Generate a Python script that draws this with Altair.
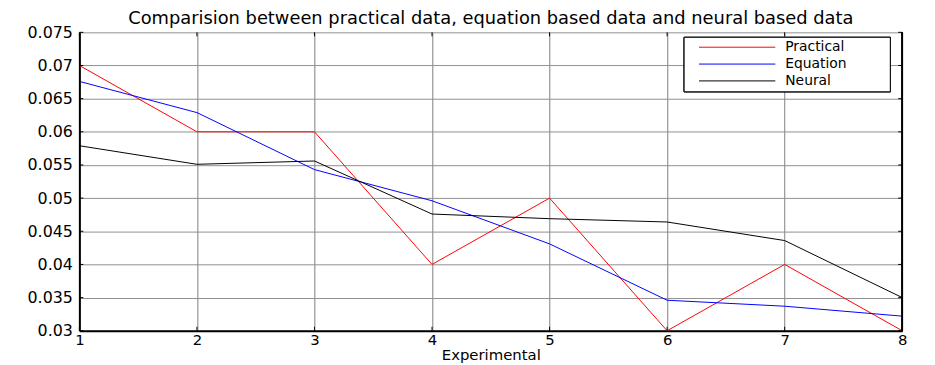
import altair as alt
import pandas as pd

experiments = [1, 2, 3, 4, 5, 6, 7, 8]
practical = [0.070, 0.060, 0.060, 0.040, 0.050, 0.030, 0.040, 0.030]
equation = [0.0676, 0.0629, 0.0543, 0.0496, 0.0431, 0.0346, 0.0337, 0.0322]
neural = [0.0579, 0.0551, 0.0556, 0.0476, 0.0469, 0.0464, 0.0436, 0.0350]
series_names = ["Practical", "Equation", "Neural"]
series_colors = ["#ff0000", "#0000ff", "#000000"]
y_ticks = [0.03, 0.035, 0.04, 0.045, 0.05, 0.055, 0.06, 0.065, 0.07, 0.075]
title_text = "Comparision between practical data, equation based data and neural based data"

rows = []
for name, vals in zip(series_names, [practical, equation, neural]):
    for e, v in zip(experiments, vals):
        rows.append({"Experiment": e, "Value": v, "Series": name})
df = pd.DataFrame(rows)
ytick_df = pd.DataFrame({"t": y_ticks})
xtick_df = pd.DataFrame({"e": experiments})
legend_df = pd.DataFrame({"Series": series_names})

FONT = "DejaVu Sans"
W, H = 830, 301

xscale = alt.Scale(domain=[1, 8], nice=False)
yscale = alt.Scale(domain=[0.03, 0.075], nice=False)
cscale = alt.Scale(domain=series_names, range=series_colors)

xaxis = alt.Axis(values=experiments, format="d", title="Experimental",
                 grid=True, gridColor="#808080", gridOpacity=1, gridWidth=1,
                 domainColor="black", domainWidth=2, tickSize=0,
                 labelPadding=2, labelFontSize=15, labelFont=FONT,
                 labelColor="black", titleFont=FONT, titleFontSize=15,
                 titleFontWeight="normal", titleColor="black", titlePadding=0,
                 labelFlush=False, labelOverlap=False)
yaxis = alt.Axis(values=y_ticks, format="~g", title=None,
                 grid=True, gridColor="#909090", gridOpacity=1, gridWidth=1,
                 domainColor="black", domainWidth=2, tickSize=0,
                 labelPadding=7, labelFontSize=16, labelFont=FONT,
                 labelColor="black", labelFlush=False, labelOverlap=False)

lines = alt.Chart(df).mark_line(strokeWidth=1, clip=True).encode(
    x=alt.X("Experiment:Q", scale=xscale, axis=xaxis),
    y=alt.Y("Value:Q", scale=yscale, axis=yaxis),
    color=alt.Color("Series:N", scale=cscale, legend=None),
)

right_border = alt.Chart(xtick_df).mark_rule(color="black", strokeWidth=1).encode(
    x=alt.X(datum=8, scale=xscale, axis=xaxis)
)

ytick_left = alt.Chart(ytick_df).mark_rule(color="black", strokeWidth=1).encode(
    y=alt.Y("t:Q", scale=yscale, axis=yaxis), x=alt.value(0), x2=alt.value(4)
)
ytick_right = alt.Chart(ytick_df).mark_rule(color="black", strokeWidth=1).encode(
    y=alt.Y("t:Q", scale=yscale, axis=yaxis), x=alt.value(W - 4), x2=alt.value(W)
)
xtick_bottom = alt.Chart(xtick_df).mark_rule(color="black", strokeWidth=1).encode(
    x=alt.X("e:Q", scale=xscale, axis=xaxis), y=alt.value(H), y2=alt.value(H - 4)
)
xtick_top = alt.Chart(xtick_df).mark_rule(color="black", strokeWidth=1).encode(
    x=alt.X("e:Q", scale=xscale, axis=xaxis), y=alt.value(0), y2=alt.value(4)
)

# legend drawn as a guide
LX0, LX1, LY0, LY1 = 610, 818, 5, 60
ROW0, ROWSTEP = 15, 17
legend_layers = [
    alt.Chart(legend_df).mark_rect(fill="white", stroke="black", strokeWidth=1).encode(
        x=alt.value(LX0), x2=alt.value(LX1), y=alt.value(LY0), y2=alt.value(LY1)
    )
]
for i, name in enumerate(series_names):
    base = alt.Chart(legend_df).transform_filter(alt.datum.Series == name)
    legend_layers.append(
        base.mark_rule(strokeWidth=1).encode(
            x=alt.value(625), x2=alt.value(702), y=alt.value(ROW0 + ROWSTEP * i),
            color=alt.Color("Series:N", scale=cscale, legend=None),
        )
    )
    legend_layers.append(
        base.mark_text(align="left", baseline="middle", font=FONT, fontSize=14,
                       color="black").encode(
            x=alt.value(712), y=alt.value(ROW0 + ROWSTEP * i), text="Series:N",
        )
    )

chart = alt.layer(lines, right_border, ytick_left, ytick_right, xtick_bottom, xtick_top,
                  *legend_layers).properties(
    width=W, height=H,
    title=alt.TitleParams(title_text, font=FONT, fontSize=18, fontWeight="normal",
                          color="black", anchor="middle", offset=-4),
    autosize="none",
    padding={"left": 72, "top": 23, "right": 25, "bottom": 33},
    background="white",
).configure_view(stroke=None)

chart.save("out.html", embed_options={"renderer": "svg", "actions": False})
